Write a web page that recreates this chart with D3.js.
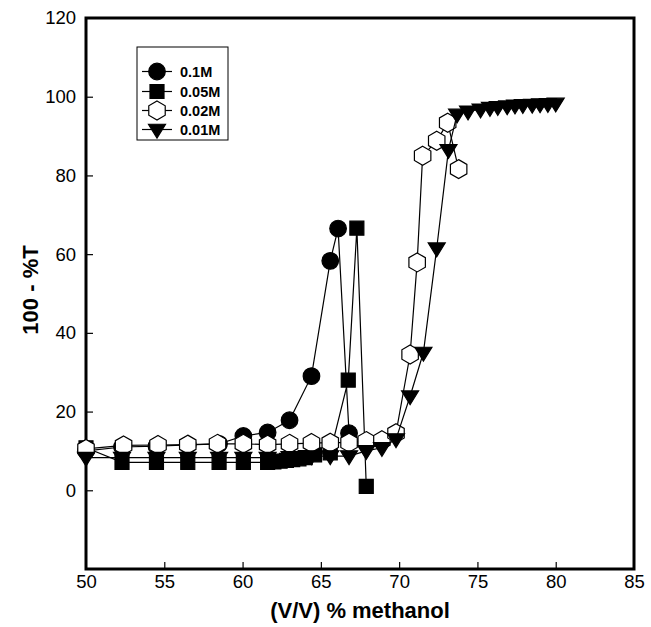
<!DOCTYPE html>
<html><head><meta charset="utf-8">
<script src="https://cdn.jsdelivr.net/npm/d3@7/dist/d3.min.js"></script>
<style>body{margin:0;background:#fff}svg{display:block}</style>
</head><body><svg id="c" width="651" height="627"></svg>
<script>
const seriesNames = ["0.1M","0.05M","0.02M","0.01M"];
const x01 = [50,52.3,54.5,56.5,58.5,60.05,61.6,63.0,64.4,65.6,66.1,66.8];
const y01 = [10,11,11.2,11.5,11.8,13.8,14.7,17.8,29,58.3,66.5,14.5];
const x005 = [50,52.3,54.5,56.5,58.5,60.05,61.6,62.0,62.4,62.8,63.2,63.6,64.0,64.6,65.6,66.75,67.3,67.9];
const y005 = [10.8,7.1,7.1,7.1,7.1,7.1,7.1,7.2,7.4,7.6,7.8,8.0,8.3,9.0,9.5,28,66.6,1.0];
const x002 = [50,52.4,54.6,56.5,58.4,60.05,61.6,63.0,64.4,65.6,66.8,67.9,68.9,69.8,70.7,71.15,71.5,72.4,73.1,73.8];
const y002 = [10.5,11.4,11.5,11.6,11.8,11.8,11.6,11.8,12,12.1,12.1,12.5,12.7,14.5,34.5,57.9,85,88.8,93.4,81.6];
const x001 = [50,52.3,54.5,56.5,58.5,60.05,61.6,63.0,64.4,65.6,66.8,67.9,68.9,69.8,70.7,71.55,72.4,73.15,73.7,74.4,75.2,75.8,76.3,76.9,77.4,77.9,78.5,79.0,79.5,80.0];
const y001 = [8.3,8.3,8.3,8.3,8.3,8.3,8.3,8.5,8.7,8.7,8.7,10,10.8,13,23.9,35,61.5,86.5,95.5,96.3,96.8,97.2,97.4,97.6,97.8,97.9,98.0,98.1,98.2,98.3];
const xTicks = [50,55,60,65,70,75,80,85];
const yTicks = [0,20,40,60,80,100,120];
const xTitle = "(V/V) % methanol";
const yTitle = "100 - %T";

const svg = d3.select("#c");
const x = d3.scaleLinear().domain([50,85]).range([86,634]);
const y = d3.scaleLinear().domain([-20,120]).range([569,18]);
const font = "'Liberation Sans', Arial, sans-serif";

// axes (ticks inside)
const gx = svg.append("g").attr("transform",`translate(0,${y(-20)})`)
  .call(d3.axisBottom(x).tickValues(xTicks).tickSizeInner(-7).tickSizeOuter(0).tickPadding(6));
const gy = svg.append("g").attr("transform",`translate(${x(50)},0)`)
  .call(d3.axisLeft(y).tickValues(yTicks).tickSizeInner(-7).tickSizeOuter(0).tickPadding(10));
[gx,gy].forEach(g=>{
  g.select(".domain").remove();
  g.selectAll("text").attr("font-family",font).attr("font-size",18.5).attr("fill","#000");
  g.selectAll("line").attr("stroke","#000").attr("stroke-width",1.2);
});
gx.selectAll(".tick").filter(d=>d===50||d===85).select("line").remove();
gy.selectAll(".tick").filter(d=>d===120).select("line").remove();

// frame
svg.append("rect").attr("x",x(50)).attr("y",y(120)).attr("width",x(85)-x(50)).attr("height",y(-20)-y(120))
  .attr("fill","none").attr("stroke","#000").attr("stroke-width",3);

svg.append("text").attr("x",360).attr("y",618).attr("text-anchor","middle")
  .attr("font-family",font).attr("font-weight","bold").attr("font-size",22).text(xTitle);
svg.append("text").attr("transform","translate(38,290) rotate(-90)").attr("text-anchor","middle")
  .attr("font-family",font).attr("font-weight","bold").attr("font-size",22).text(yTitle);

// symbols
const hexPath = (r)=>{const p=[];for(let i=0;i<6;i++){const a=-Math.PI/2+i*Math.PI/3;p.push([r*Math.cos(a),r*Math.sin(a)]);}return "M"+p.map(d=>d.join(",")).join("L")+"Z";};
const triPath = (s)=>`M${-s},${-s*0.62}L${s},${-s*0.62}L0,${s*1.0}Z`;
const sym = [
  {path: d3.symbol().type(d3.symbolCircle).size(Math.PI*8.3*8.3)(), fill:"#000"},
  {path: "M-7,-7L7,-7L7,7L-7,7Z", fill:"#000"},
  {path: hexPath(9.5), fill:"#fff"},
  {path: triPath(8.5), fill:"#000"}
];
const data = [[x01,y01],[x005,y005],[x002,y002],[x001,y001]];
const line = d3.line().x(d=>x(d[0])).y(d=>y(d[1]));
data.forEach(([xs,ys],i)=>{
  const pts = xs.map((v,j)=>[v,ys[j]]);
  const g = svg.append("g");
  g.append("path").attr("d",line(pts)).attr("fill","none").attr("stroke","#000").attr("stroke-width",1.2);
  g.selectAll("path.m").data(pts).join("path").attr("class","m")
    .attr("transform",d=>`translate(${x(d[0])},${y(d[1])})`)
    .attr("d",sym[i].path).attr("fill",sym[i].fill).attr("stroke","#000").attr("stroke-width",1.2);
});

// legend
const lg = svg.append("g");
lg.append("rect").attr("x",137).attr("y",47).attr("width",91).attr("height",93)
  .attr("fill","#fff").attr("stroke","#000").attr("stroke-width",1);
const ly = [71.5,91.5,110.5,129.5];
seriesNames.forEach((n,i)=>{
  lg.append("line").attr("x1",142).attr("x2",172).attr("y1",ly[i]).attr("y2",ly[i]).attr("stroke","#000").attr("stroke-width",1.2);
  lg.append("path").attr("transform",`translate(157,${ly[i]})`).attr("d",sym[i].path)
    .attr("fill",sym[i].fill).attr("stroke","#000").attr("stroke-width",1.2);
  lg.append("text").attr("x",180).attr("y",ly[i]+5.5).attr("font-family",font).attr("font-weight","bold")
    .attr("font-size",14.5).text(n);
});
</script></body></html>
